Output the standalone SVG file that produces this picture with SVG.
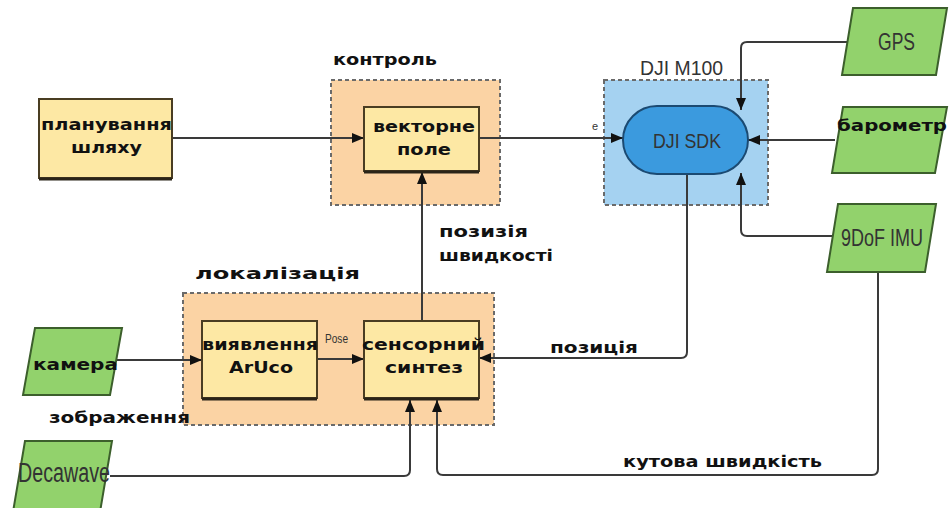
<svg xmlns="http://www.w3.org/2000/svg" width="950" height="508" viewBox="0 0 950 508">
<style>
.grp{stroke:#6a6a6a;stroke-width:2;stroke-dasharray:4 3}
.org{fill:#fbd3a4}
.blu{fill:#a5d2f1}
.box{fill:#fde8a4;stroke:#4a3d22;stroke-width:2}
.shadow{fill:none;stroke:#2a2418;stroke-width:3}
.grn{fill:#92d26c;stroke:#3c5f2c;stroke-width:2}
.b{font-family:"DejaVu Sans",sans-serif;font-weight:bold;font-size:15px;fill:#111}
.n{font-family:"Liberation Sans",sans-serif;fill:#333}
.con{fill:none;stroke:#3a3a3a;stroke-width:2}
</style>
<defs>
<marker id="ah" viewBox="0 0 12 10" refX="12" refY="5" markerWidth="12" markerHeight="10" markerUnits="userSpaceOnUse" orient="auto">
<path d="M0,0 L12,5 L0,10 Z" fill="#111"/>
</marker>
</defs>
<rect width="950" height="508" fill="#fff"/>

<g id="control-group">
<rect class="grp org" x="331" y="80" width="169" height="125"/>
<text class="b" x="333" y="65" textLength="104" lengthAdjust="spacingAndGlyphs">контроль</text>
</g>
<g id="dji-m100">
<rect class="grp blu" x="604" y="80" width="164" height="125"/>
<text class="n" x="640" y="75" font-size="21" fill="#555" textLength="83" lengthAdjust="spacingAndGlyphs">DJI M100</text>
</g>
<g id="localization-group">
<rect class="grp org" x="183" y="293" width="311" height="132"/>
<text class="b" x="195" y="279" textLength="165" lengthAdjust="spacingAndGlyphs">локалізація</text>
</g>

<g id="connectors">
<path class="con" d="M172,138 H364" marker-end="url(#ah)"/>
<path class="con" d="M479,138 H623" marker-end="url(#ah)"/>
<path class="con" d="M422,321 V172" marker-end="url(#ah)"/>
<path class="con" d="M317,359 H364" marker-end="url(#ah)"/>
<path class="con" d="M117,360 H202" stroke-width="2.5" marker-end="url(#ah)"/>
<path class="con" d="M687,174 V352 Q687,358 681,358 H479" marker-end="url(#ah)"/>
<path class="con" d="M852,42 H747 Q741,42 741,48 V110" marker-end="url(#ah)"/>
<path class="con" d="M835,140 H748" marker-end="url(#ah)"/>
<path class="con" d="M834,236 H747 Q741,236 741,230 V173" marker-end="url(#ah)"/>
<path class="con" d="M878,272 V469 Q878,475 872,475 H443 Q437,475 437,469 V400" marker-end="url(#ah)"/>
<path class="con" d="M110,476 H404 Q410,476 410,470 V400" marker-end="url(#ah)"/>
<text class="n" x="325" y="343" font-size="13" fill="#777" textLength="23" lengthAdjust="spacingAndGlyphs">Pose</text>
<text class="n" x="592" y="130" font-size="11" fill="#555">e</text>
<text class="b" x="439" y="237" textLength="89" lengthAdjust="spacingAndGlyphs">позизія</text>
<text class="b" x="439" y="261" textLength="114" lengthAdjust="spacingAndGlyphs">швидкості</text>
<text class="b" x="550" y="353" textLength="88" lengthAdjust="spacingAndGlyphs">позиція</text>
<text class="b" x="49" y="423" textLength="141" lengthAdjust="spacingAndGlyphs">зображення</text>
<text class="b" x="623" y="467" textLength="199" lengthAdjust="spacingAndGlyphs">кутова швидкість</text>
</g>

<g id="planning">
<rect class="box" x="39" y="99" width="133" height="79"/>
<path class="shadow" d="M39,179 H172"/>
<text class="b" x="41" y="130" textLength="131" lengthAdjust="spacingAndGlyphs">планування</text>
<text class="b" x="71" y="153" textLength="71" lengthAdjust="spacingAndGlyphs">шляху</text>
</g>
<g id="vector-field">
<rect class="box" x="364" y="107" width="115" height="64"/>
<path class="shadow" d="M364,172 H479"/>
<text class="b" x="373" y="132" textLength="102" lengthAdjust="spacingAndGlyphs">векторне</text>
<text class="b" x="397" y="155" textLength="54" lengthAdjust="spacingAndGlyphs">поле</text>
</g>
<g id="dji-sdk">
<rect x="623" y="106" width="125" height="68" rx="34" ry="34" fill="#3b9ade" stroke="#1b4a72" stroke-width="2"/>
<text class="n" x="653" y="148" font-size="21" fill="#1c3350" textLength="68" lengthAdjust="spacingAndGlyphs">DJI SDK</text>
</g>
<g id="gps">
<polygon class="grn" points="853,8 947,8 936,75 842,75"/>
<text class="n" x="878" y="50" font-size="24" fill="#2c3a26" textLength="37" lengthAdjust="spacingAndGlyphs">GPS</text>
</g>
<g id="barometer">
<polygon class="grn" points="843,107 947,107 935,173 832,173"/>
<text class="b" x="837" y="131" textLength="110" lengthAdjust="spacingAndGlyphs">барометр</text>
</g>
<g id="imu">
<polygon class="grn" points="838,204 936,204 925,272 827,272"/>
<text class="n" x="841" y="246" font-size="23" fill="#2c3a26" textLength="82" lengthAdjust="spacingAndGlyphs">9DoF IMU</text>
</g>
<g id="aruco">
<rect class="box" x="202" y="321" width="115" height="77"/>
<path class="shadow" d="M202,399 H317"/>
<text class="b" x="202" y="350" textLength="116" lengthAdjust="spacingAndGlyphs">виявлення</text>
<text class="b" x="229" y="373" textLength="64" lengthAdjust="spacingAndGlyphs">ArUco</text>
</g>
<g id="sensor-fusion">
<rect class="box" x="364" y="321" width="115" height="77"/>
<path class="shadow" d="M364,399 H479"/>
<text class="b" x="362" y="350" textLength="123" lengthAdjust="spacingAndGlyphs">сенсорний</text>
<text class="b" x="385" y="373" textLength="78" lengthAdjust="spacingAndGlyphs">синтез</text>
</g>
<g id="camera">
<polygon class="grn" points="35,328 122,328 110,395 23,395"/>
<text class="b" x="33" y="370" textLength="85" lengthAdjust="spacingAndGlyphs">камера</text>
</g>
<g id="decawave">
<polygon class="grn" points="25,441 112,441 100,512 13,512"/>
<text class="n" x="18" y="482" font-size="27" fill="#2c4a1e" textLength="92" lengthAdjust="spacingAndGlyphs">Decawave</text>
</g>
</svg>
